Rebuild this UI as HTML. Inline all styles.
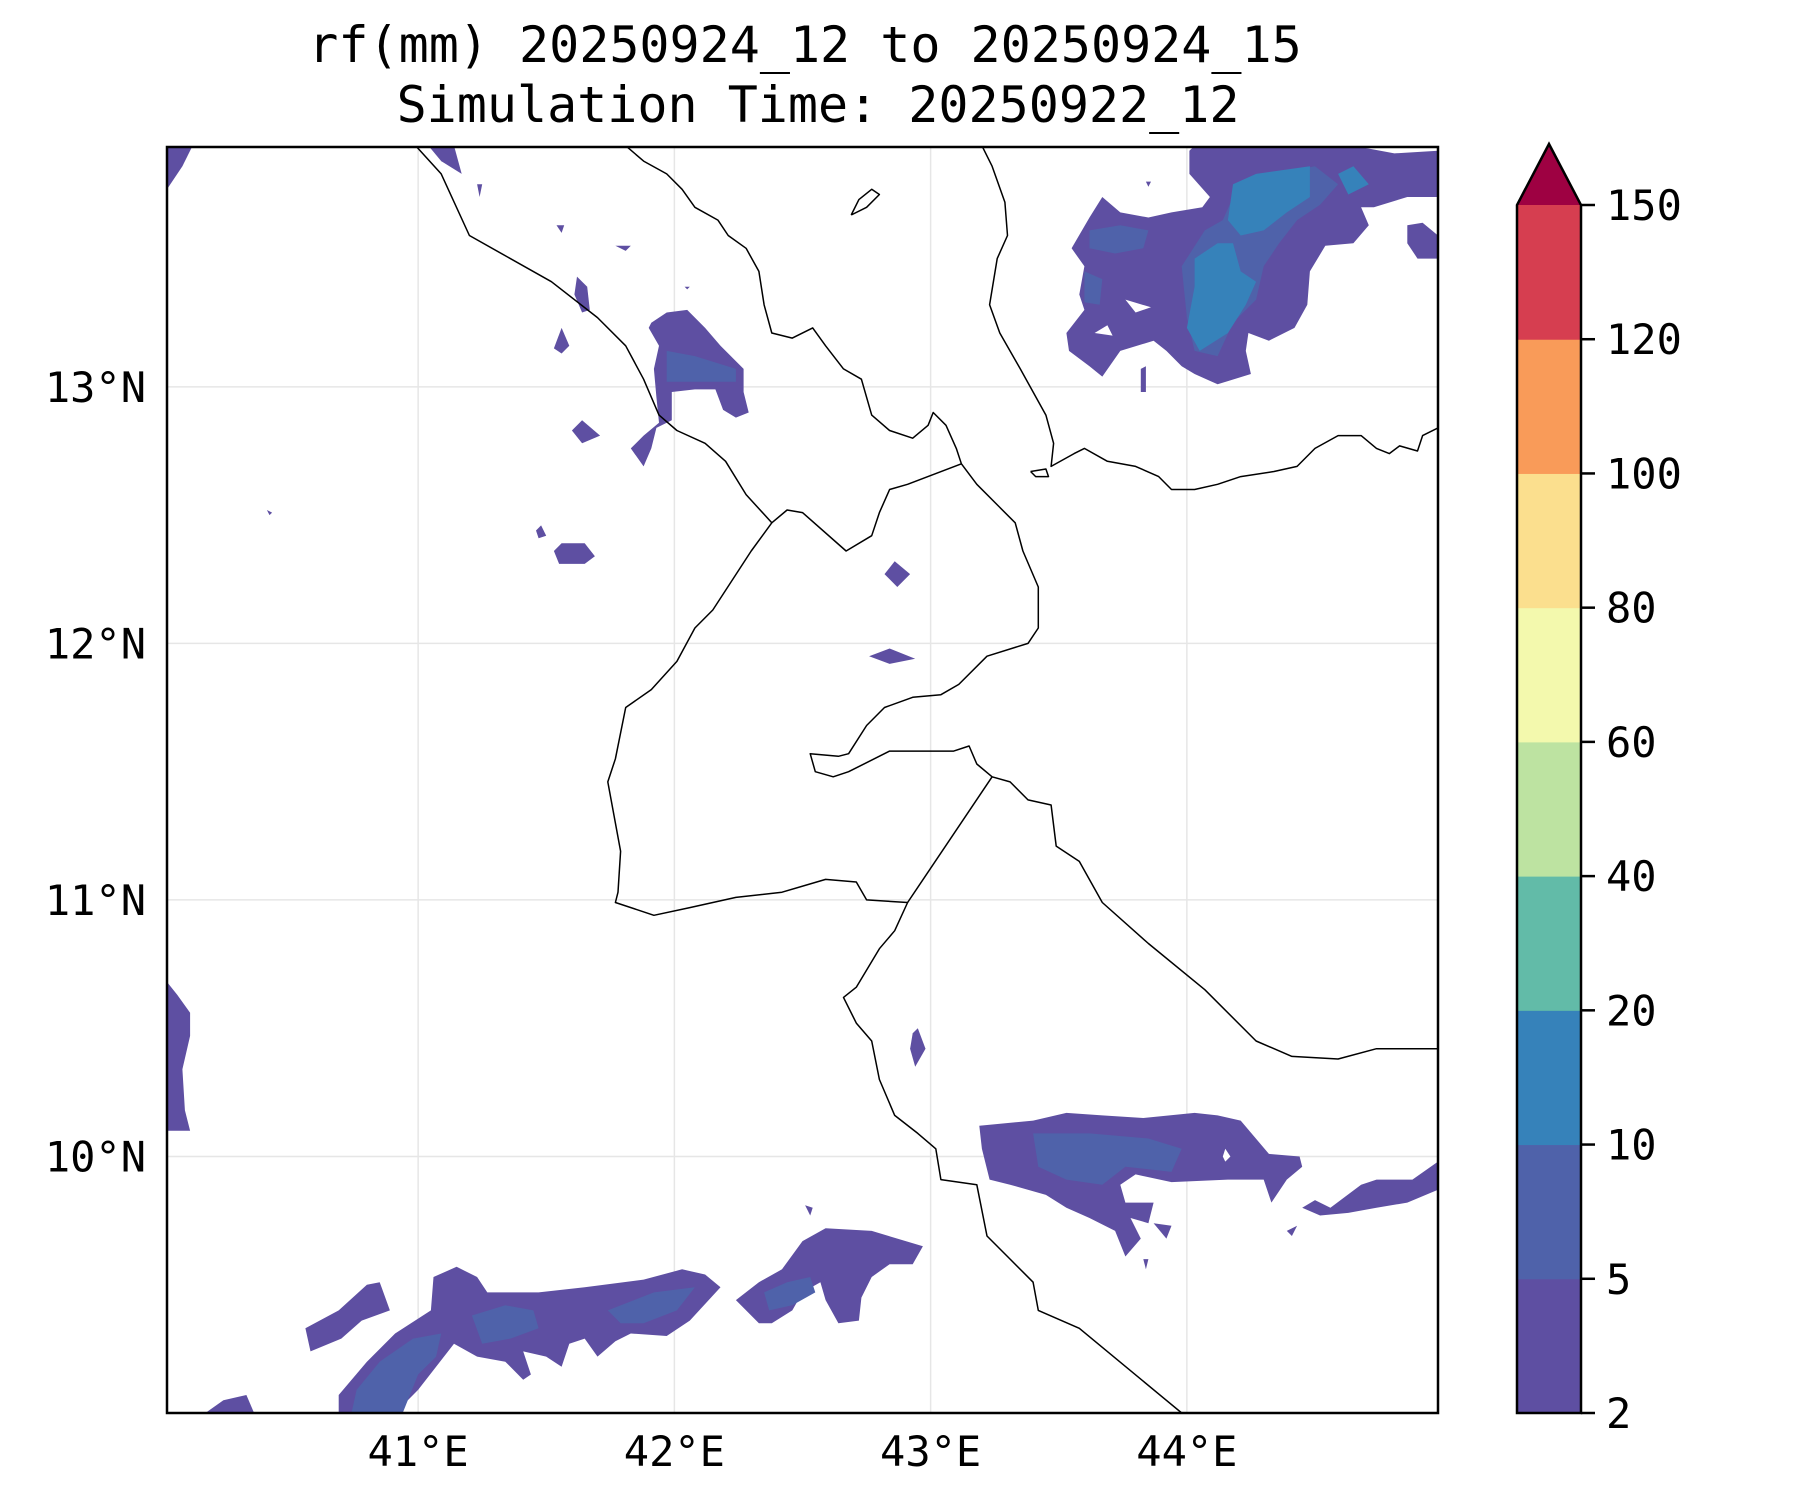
<!DOCTYPE html>
<html><head><meta charset="utf-8"><style>
html,body{margin:0;padding:0;background:#fff;}
svg{display:block;font-family:"DejaVu Sans Mono","Liberation Mono",monospace;}
</style></head><body>
<svg id="chart" width="1800" height="1500" viewBox="0 0 1800 1500" xmlns="http://www.w3.org/2000/svg">
<rect x="0" y="0" width="1800" height="1500" fill="#fff"/>
<text x="805" y="62" font-size="50" text-anchor="middle">rf(mm) 20250924_12 to 20250924_15</text>
<text x="818" y="122" font-size="50" text-anchor="middle">Simulation Time: 20250922_12</text>
<defs><clipPath id="mapclip"><rect x="167" y="147" width="1271" height="1266"/></clipPath></defs>
<g id="grid"></g>
<g id="rain" clip-path="url(#mapclip)"></g>
<g id="coast" clip-path="url(#mapclip)"></g>
<rect x="167" y="147" width="1271" height="1266" fill="none" stroke="#000" stroke-width="2.5"/>
<g id="axes"></g>
<g id="cbar"></g>
</svg>
<script>
const lonTicks = [41, 42, 43, 44];
const latTicks = [13, 12, 11, 10];
const lonTickLabels = ["41°E", "42°E", "43°E", "44°E"];
const latTickLabels = ["13°N", "12°N", "11°N", "10°N"];
const levels = [2, 5, 10, 20, 40, 60, 80, 100, 120, 150];
const levelColors = ["#5e4fa2", "#4f62aa", "#3682ba", "#62bba8", "#bde3a1", "#f3f9ad", "#fbdf8e", "#f99b59", "#d63e50"];
const extendColor = "#9e0142";

const lonMin = 40.02, lonMax = 44.98, latMin = 9.0, latMax = 13.935;

const rainClass1 = [
 [[40.02,13.94],[40.12,13.94],[40.08,13.86],[40.02,13.77]],
 [[41.04,13.94],[41.14,13.94],[41.17,13.83],[41.09,13.88]],
 [[41.62,13.43],[41.66,13.39],[41.67,13.30],[41.64,13.29],[41.61,13.36]],
 [[41.56,13.23],[41.59,13.16],[41.56,13.13],[41.53,13.15]],
 [[41.91,13.25],[41.97,13.29],[42.05,13.30],[42.12,13.23],[42.18,13.16],[42.27,13.07],[42.27,12.98],[42.29,12.90],[42.24,12.88],[42.19,12.91],[42.16,12.99],[42.08,12.99],[41.99,12.98],[41.99,12.87],[41.93,12.84],[41.91,12.76],[41.88,12.69],[41.83,12.76],[41.88,12.81],[41.94,12.86],[41.93,12.96],[41.92,13.07],[41.94,13.16],[41.90,13.23]],
 [[41.60,12.83],[41.64,12.87],[41.71,12.81],[41.64,12.78]],
 [[41.46,12.44],[41.48,12.46],[41.50,12.42],[41.47,12.41]],
 [[41.53,12.36],[41.56,12.39],[41.65,12.39],[41.69,12.34],[41.65,12.31],[41.55,12.31]],
 [[42.82,12.27],[42.86,12.32],[42.92,12.27],[42.87,12.22]],
 [[42.76,11.95],[42.84,11.98],[42.94,11.94],[42.84,11.92]],
 [[41.23,13.79],[41.25,13.79],[41.24,13.74]],
 [[41.54,13.63],[41.57,13.63],[41.56,13.60]],
 [[41.77,13.55],[41.83,13.55],[41.81,13.53]],
 [[40.41,12.52],[40.43,12.51],[40.42,12.50]],
 [[42.04,13.39],[42.06,13.39],[42.05,13.38]],
 [[43.84,13.80],[43.86,13.80],[43.85,13.78]],
 [[44.01,13.92],[44.03,13.94],[44.65,13.94],[44.81,13.91],[44.98,13.92],[44.98,13.74],[44.86,13.74],[44.73,13.70],[44.68,13.70],[44.71,13.63],[44.65,13.56],[44.54,13.55],[44.48,13.45],[44.47,13.32],[44.42,13.23],[44.32,13.18],[44.24,13.21],[44.23,13.14],[44.25,13.05],[44.12,13.01],[44.03,13.05],[43.98,13.08],[43.92,13.14],[43.87,13.18],[43.74,13.14],[43.67,13.04],[43.62,13.08],[43.54,13.14],[43.53,13.21],[43.60,13.30],[43.58,13.36],[43.60,13.47],[43.55,13.54],[43.62,13.66],[43.67,13.74],[43.74,13.68],[43.85,13.66],[43.94,13.68],[44.06,13.70],[44.09,13.74],[44.01,13.83]],
 [[44.86,13.63],[44.92,13.64],[44.98,13.59],[44.98,13.50],[44.90,13.50],[44.86,13.56]],
 [[43.82,13.07],[43.84,13.08],[43.84,12.98],[43.82,12.98]],
 [[40.02,10.68],[40.06,10.63],[40.11,10.56],[40.11,10.47],[40.08,10.34],[40.09,10.18],[40.11,10.10],[40.02,10.10]],
 [[42.93,10.48],[42.95,10.50],[42.98,10.42],[42.94,10.35],[42.92,10.42]],
 [[43.19,10.12],[43.40,10.14],[43.53,10.17],[43.67,10.16],[43.83,10.15],[44.03,10.17],[44.12,10.16],[44.21,10.14],[44.32,10.01],[44.44,10.00],[44.45,9.96],[44.39,9.91],[44.33,9.82],[44.30,9.91],[44.16,9.91],[43.94,9.90],[43.80,9.93],[43.74,9.89],[43.76,9.82],[43.87,9.82],[43.85,9.74],[43.78,9.76],[43.82,9.68],[43.76,9.61],[43.72,9.71],[43.62,9.76],[43.53,9.80],[43.45,9.85],[43.31,9.89],[43.23,9.91],[43.20,10.03]],
 [[43.87,9.74],[43.94,9.73],[43.92,9.68]],
 [[43.83,9.60],[43.85,9.60],[43.84,9.56]],
 [[44.39,9.71],[44.43,9.73],[44.41,9.69]],
 [[44.45,9.80],[44.50,9.83],[44.56,9.80],[44.68,9.89],[44.74,9.91],[44.88,9.91],[44.98,9.98],[44.98,9.87],[44.86,9.82],[44.74,9.80],[44.63,9.78],[44.52,9.77]],
 [[40.56,9.33],[40.69,9.40],[40.80,9.50],[40.85,9.51],[40.89,9.40],[40.78,9.36],[40.70,9.29],[40.58,9.24]],
 [[40.69,9.00],[40.69,9.07],[40.80,9.20],[40.91,9.31],[41.05,9.40],[41.06,9.53],[41.15,9.57],[41.23,9.53],[41.27,9.47],[41.47,9.47],[41.65,9.49],[41.88,9.52],[42.03,9.56],[42.12,9.54],[42.18,9.49],[42.06,9.36],[41.97,9.30],[41.83,9.31],[41.77,9.28],[41.70,9.22],[41.65,9.29],[41.59,9.27],[41.56,9.18],[41.50,9.22],[41.41,9.24],[41.44,9.15],[41.41,9.13],[41.34,9.20],[41.23,9.22],[41.14,9.27],[41.00,9.09],[40.91,9.00]],
 [[40.17,9.00],[40.24,9.05],[40.33,9.07],[40.36,9.00]],
 [[42.24,9.44],[42.33,9.51],[42.42,9.56],[42.50,9.67],[42.59,9.72],[42.77,9.71],[42.97,9.65],[42.93,9.58],[42.84,9.58],[42.77,9.53],[42.73,9.45],[42.72,9.36],[42.64,9.35],[42.59,9.44],[42.57,9.51],[42.50,9.47],[42.46,9.40],[42.38,9.35],[42.33,9.35]],
 [[42.51,9.81],[42.54,9.80],[42.53,9.77]]
];
const rainHoles = [
 [[43.64,13.21],[43.69,13.24],[43.71,13.20]],
 [[43.76,13.34],[43.86,13.31],[43.80,13.29]],
 [[44.15,10.03],[44.17,10.00],[44.15,9.98],[44.14,10.00]]
];
const rainClass2 = [
 [[41.97,13.14],[42.08,13.12],[42.24,13.07],[42.24,13.02],[42.06,13.02],[41.97,13.02]],
 [[44.07,13.61],[44.14,13.65],[44.18,13.74],[44.25,13.79],[44.34,13.83],[44.50,13.86],[44.59,13.79],[44.52,13.71],[44.43,13.65],[44.36,13.56],[44.30,13.47],[44.27,13.34],[44.18,13.25],[44.12,13.12],[44.03,13.14],[44.00,13.27],[43.98,13.47]],
 [[43.62,13.61],[43.74,13.63],[43.85,13.61],[43.83,13.54],[43.72,13.52],[43.62,13.54]],
 [[43.60,13.45],[43.67,13.42],[43.66,13.32],[43.60,13.33]],
 [[43.40,10.09],[43.62,10.09],[43.85,10.07],[43.98,10.03],[43.94,9.94],[43.76,9.96],[43.67,9.89],[43.53,9.91],[43.42,9.96]],
 [[40.74,9.00],[40.76,9.09],[40.85,9.20],[40.98,9.29],[41.09,9.31],[41.07,9.22],[41.00,9.15],[40.94,9.00]],
 [[41.21,9.38],[41.34,9.42],[41.45,9.40],[41.47,9.33],[41.36,9.29],[41.25,9.27]],
 [[41.74,9.40],[41.92,9.47],[42.08,9.49],[42.01,9.40],[41.88,9.35],[41.79,9.35]],
 [[42.35,9.47],[42.44,9.51],[42.53,9.53],[42.55,9.47],[42.46,9.42],[42.37,9.40]]
];
const rainClass3 = [
 [[44.03,13.50],[44.12,13.56],[44.18,13.56],[44.21,13.45],[44.27,13.41],[44.23,13.32],[44.16,13.21],[44.05,13.14],[44.00,13.23],[44.03,13.39]],
 [[44.18,13.79],[44.27,13.83],[44.48,13.86],[44.48,13.74],[44.39,13.68],[44.30,13.61],[44.21,13.59],[44.16,13.65]],
 [[44.59,13.83],[44.65,13.86],[44.71,13.79],[44.63,13.75]]
];
const coastLines = [
 [[40.99,13.94],[41.09,13.83],[41.20,13.59],[41.52,13.41],[41.70,13.27],[41.81,13.16],[41.88,13.03],[41.94,12.89],[42.01,12.83],[42.12,12.78],[42.20,12.71],[42.28,12.58],[42.38,12.47],[42.30,12.36],[42.15,12.13],[42.08,12.06],[42.01,11.93],[41.91,11.82],[41.81,11.75],[41.77,11.55],[41.74,11.46],[41.79,11.19],[41.78,11.03],[41.77,10.99],[41.92,10.94],[42.06,10.97],[42.24,11.01],[42.42,11.03],[42.59,11.08],[42.71,11.07],[42.75,11.00],[42.91,10.99],[42.86,10.88],[42.80,10.81],[42.71,10.66],[42.66,10.62],[42.71,10.52],[42.77,10.45],[42.80,10.30],[42.86,10.16],[42.95,10.09],[43.02,10.03],[43.04,9.91],[43.18,9.89],[43.22,9.69],[43.31,9.60],[43.40,9.51],[43.42,9.40],[43.58,9.33],[43.98,9.00]],
 [[42.91,10.99],[43.24,11.48]],
 [[42.38,12.47],[42.44,12.52],[42.50,12.51],[42.67,12.36],[42.77,12.42],[42.80,12.51],[42.84,12.60],[42.91,12.62],[43.12,12.70]],
 [[41.81,13.94],[41.88,13.88],[41.97,13.83],[42.03,13.77],[42.08,13.70],[42.17,13.65],[42.21,13.59],[42.28,13.54],[42.33,13.45],[42.35,13.32],[42.38,13.21],[42.46,13.19],[42.54,13.23],[42.59,13.16],[42.66,13.07],[42.73,13.03],[42.77,12.89],[42.84,12.83],[42.93,12.80],[42.99,12.85],[43.01,12.90],[43.06,12.85],[43.10,12.76],[43.12,12.70],[43.18,12.62],[43.27,12.53],[43.33,12.47],[43.36,12.36],[43.42,12.22],[43.42,12.06],[43.38,12.00],[43.22,11.95],[43.11,11.84],[43.04,11.80],[42.93,11.79],[42.82,11.75],[42.75,11.68],[42.68,11.57],[42.64,11.56],[42.53,11.57],[42.55,11.50],[42.62,11.48],[42.68,11.50],[42.84,11.58],[43.09,11.58],[43.15,11.60],[43.18,11.53],[43.24,11.48],[43.31,11.46],[43.38,11.39],[43.47,11.37],[43.49,11.21],[43.58,11.15],[43.67,10.99],[43.85,10.83],[44.07,10.65],[44.27,10.45],[44.41,10.39],[44.59,10.38],[44.74,10.42],[44.98,10.42]],
 [[43.20,13.94],[43.24,13.86],[43.29,13.72],[43.30,13.59],[43.26,13.50],[43.23,13.32],[43.27,13.21],[43.35,13.07],[43.40,12.98],[43.45,12.89],[43.48,12.78],[43.47,12.69],[43.56,12.74],[43.60,12.76],[43.69,12.71],[43.80,12.69],[43.89,12.65],[43.94,12.60],[44.03,12.60],[44.12,12.62],[44.21,12.65],[44.34,12.67],[44.43,12.69],[44.50,12.76],[44.59,12.81],[44.68,12.81],[44.74,12.76],[44.79,12.74],[44.83,12.77],[44.90,12.75],[44.92,12.81],[44.98,12.84]],
 [[42.69,13.67],[42.72,13.73],[42.77,13.77],[42.80,13.75],[42.75,13.70],[42.69,13.67]],
 [[43.39,12.67],[43.45,12.68],[43.46,12.65],[43.41,12.65],[43.39,12.67]]
];

const NS = "http://www.w3.org/2000/svg";
const X0 = 167, X1 = 1438, Y0 = 147, Y1 = 1413;
function xScale(lon){ return X0 + (lon - lonMin) / (lonMax - lonMin) * (X1 - X0); }
function yScale(lat){ return Y0 + (latMax - lat) / (latMax - latMin) * (Y1 - Y0); }
function pts(arr){ return arr.map(p => xScale(p[0]).toFixed(1) + "," + yScale(p[1]).toFixed(1)).join(" "); }
function mk(tag, parent){ const e = document.createElementNS(NS, tag); parent.appendChild(e); return e; }

const grid = document.getElementById("grid");
lonTicks.forEach((v, i) => {
  const l = mk("line", grid);
  l.setAttribute("x1", xScale(v)); l.setAttribute("x2", xScale(v));
  l.setAttribute("y1", Y0); l.setAttribute("y2", Y1);
  l.setAttribute("stroke", "#e6e6e6"); l.setAttribute("stroke-width", "1.5");
  
  
});
latTicks.forEach((v, i) => {
  const l = mk("line", grid);
  l.setAttribute("y1", yScale(v)); l.setAttribute("y2", yScale(v));
  l.setAttribute("x1", X0); l.setAttribute("x2", X1);
  l.setAttribute("stroke", "#e6e6e6"); l.setAttribute("stroke-width", "1.5");
  
  
});

const rain = document.getElementById("rain");
function drawPolys(list, fill, name){
  list.forEach(poly => {
    const p = mk("polygon", rain);
    p.setAttribute("points", pts(poly));
    p.setAttribute("fill", fill);
    
    
  });
}
drawPolys(rainClass1, levelColors[0], "rain-2-5mm");
drawPolys(rainHoles, "#ffffff", "rain-hole");
drawPolys(rainClass2, levelColors[1], "rain-5-10mm");
drawPolys(rainClass3, levelColors[2], "rain-10-20mm");

const coast = document.getElementById("coast");
coastLines.forEach(line => {
  const pl = mk("polyline", coast);
  pl.setAttribute("points", pts(line));
  pl.setAttribute("fill", "none");
  pl.setAttribute("stroke", "#000");
  pl.setAttribute("stroke-width", "1.5");
  pl.setAttribute("stroke-linejoin", "round");
  
  
});

const axes = document.getElementById("axes");
lonTicks.forEach((v, i) => {
  const t = mk("text", axes);
  t.setAttribute("x", xScale(v)); t.setAttribute("y", 1466);
  t.setAttribute("font-size", "42"); t.setAttribute("text-anchor", "middle");
  t.textContent = lonTickLabels[i];
  
  
});
latTicks.forEach((v, i) => {
  const t = mk("text", axes);
  t.setAttribute("x", 146); t.setAttribute("y", yScale(v) + 15);
  t.setAttribute("font-size", "42"); t.setAttribute("text-anchor", "end");
  t.textContent = latTickLabels[i];
  
  
});

const cbar = document.getElementById("cbar");
const CX = 1517, CW = 64, CTop = 205, CBot = 1413, CTip = 144;
const n = levels.length - 1;
function cbY(i){ return CBot - i * (CBot - CTop) / n; }
for (let i = 0; i < n; i++) {
  const r = mk("rect", cbar);
  r.setAttribute("x", CX); r.setAttribute("y", cbY(i + 1));
  r.setAttribute("width", CW); r.setAttribute("height", cbY(i) - cbY(i + 1) + 0.5);
  r.setAttribute("fill", levelColors[i]);
  
  
}
const tri = mk("polygon", cbar);
tri.setAttribute("points", CX + "," + CTop + " " + (CX + CW / 2) + "," + CTip + " " + (CX + CW) + "," + CTop);
tri.setAttribute("fill", extendColor);


const outline = mk("polygon", cbar);
outline.setAttribute("points", CX + "," + CBot + " " + CX + "," + CTop + " " + (CX + CW / 2) + "," + CTip + " " + (CX + CW) + "," + CTop + " " + (CX + CW) + "," + CBot);
outline.setAttribute("fill", "none"); outline.setAttribute("stroke", "#000"); outline.setAttribute("stroke-width", "2.5");


levels.forEach((v, i) => {
  const y = cbY(i);
  const tk = mk("line", cbar);
  tk.setAttribute("x1", CX + CW); tk.setAttribute("x2", CX + CW + 14);
  tk.setAttribute("y1", y); tk.setAttribute("y2", y);
  tk.setAttribute("stroke", "#000"); tk.setAttribute("stroke-width", "2.5");
  
  
  const t = mk("text", cbar);
  t.setAttribute("x", CX + CW + 25); t.setAttribute("y", y + 15);
  t.setAttribute("font-size", "42");
  t.textContent = String(v);
  
  
});
</script>
</body></html>
